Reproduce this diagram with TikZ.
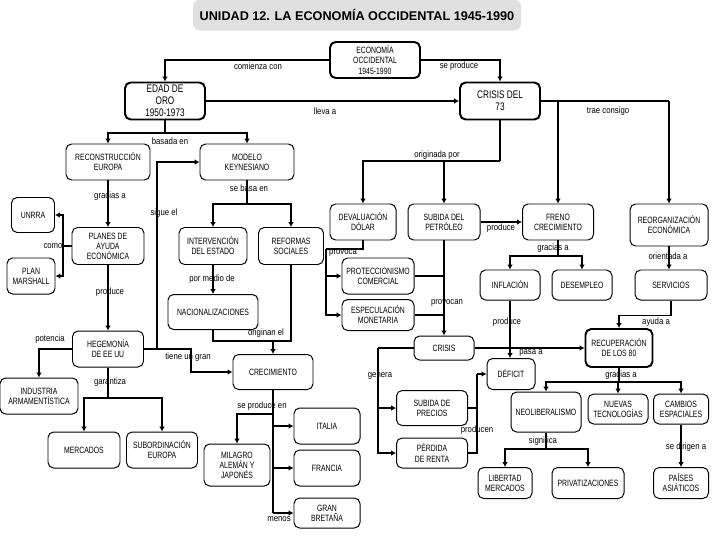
\documentclass[tikz,border=0pt]{standalone}
\usepackage{fontspec}
\setmainfont{Liberation Sans}
\newfontfamily\boxfamily[FakeStretch=0.75]{Liberation Sans}
\newfontfamily\linkfamily[FakeStretch=0.85]{Liberation Sans}
\usepackage{tikz}
\usetikzlibrary{arrows.meta}
\newcommand\boxtext{\boxfamily\fontsize{6.5}{7.2}\selectfont}
\newcommand\bigtext{\boxfamily\fontsize{7.8}{8.6}\selectfont}
\newcommand\linktext{\linkfamily\fontsize{6.5}{7}\selectfont}
\newcommand\headtext{\bfseries\fontsize{9}{10}\selectfont}

\tikzset{
  box/.style={draw, rounded corners=4pt, line width=0.7pt, align=center, font=\boxtext, inner sep=1pt},
  keybox/.style={box, line width=1.4pt},
  dims/.style 2 args={minimum width=#1*0.025cm, minimum height=#2*0.025cm},
  conn/.style={line width=1.3pt},
  arr/.style={conn, -{Latex[length=3.5pt,width=4pt]}},
  lbl/.style={font=\linktext, inner sep=0pt},
  titlebox/.style={fill=black!12, rounded corners=5pt, font=\headtext},
}

\begin{document}
\begin{tikzpicture}[x=0.025cm, y=-0.025cm]
  \useasboundingbox (0,0) rectangle (720,540);

  \node[titlebox, dims={328}{31}] (title) at (357,15) {UNIDAD 12. LA ECONOMÍA OCCIDENTAL 1945-1990};

  % concepts
  \node[keybox, dims={90}{36}] (eco) at (375,60) {ECONOMÍA\\OCCIDENTAL\\1945-1990};
  \node[keybox, font=\bigtext, dims={80}{37}] (edad) at (165,101) {EDAD DE\\ORO\\1950-1973};
  \node[keybox, font=\bigtext, dims={80}{37}] (crisis73) at (500,101) {CRISIS DEL\\73};
  \node[box, dims={84}{36}] (recon) at (108,162) {RECONSTRUCCIÓN\\EUROPA};
  \node[box, dims={94}{36}] (keynes) at (247,162) {MODELO\\KEYNESIANO};
  \node[box, dims={43}{35}] (unrra) at (33,215) {UNRRA};
  \node[box, dims={72}{37}] (planes) at (108,246) {PLANES DE\\AYUDA\\ECONÓMICA};
  \node[box, dims={48}{36}] (marshall) at (31,276) {PLAN\\MARSHALL};
  \node[box, dims={68}{37}] (interv) at (213,246) {INTERVENCIÓN\\DEL ESTADO};
  \node[box, dims={65}{37}] (reformas) at (291,246) {REFORMAS\\SOCIALES};
  \node[box, dims={66}{36}] (deval) at (363,222) {DEVALUACIÓN\\DÓLAR};
  \node[box, dims={72}{36}] (petroleo) at (444,222) {SUBIDA DEL\\PETRÓLEO};
  \node[box, dims={71}{36}] (freno) at (558,222) {FRENO\\CRECIMIENTO};
  \node[box, dims={78}{42}] (reorg) at (669,225) {REORGANIZACIÓN\\ECONÓMICA};
  \node[box, dims={72}{36}] (protec) at (378,276) {PROTECCIONISMO\\COMERCIAL};
  \node[box, dims={72}{31}] (especul) at (378,315) {ESPECULACIÓN\\MONETARIA};
  \node[box, dims={60}{30}] (inflacion) at (510,285) {INFLACIÓN};
  \node[box, dims={60}{30}] (desempleo) at (582,285) {DESEMPLEO};
  \node[box, dims={72}{30}] (servicios) at (671,285) {SERVICIOS};
  \node[box, dims={90}{35}] (nacional) at (213,312) {NACIONALIZACIONES};
  \node[box, dims={71}{36}] (hegemonia) at (108,349) {HEGEMONÍA\\DE EE UU};
  \node[box, dims={60}{24}] (crisis) at (444,348) {CRISIS};
  \node[keybox, dims={67}{38}] (recup) at (619,348) {RECUPERACIÓN\\DE LOS 80};
  \node[box, dims={80}{35}] (crec) at (273,372) {CRECIMIENTO};
  \node[box, dims={48}{31}] (deficit) at (511,374) {DÉFICIT};
  \node[box, dims={78}{36}] (industria) at (39,396) {INDUSTRIA\\ARMAMENTÍSTICA};
  \node[box, dims={71}{35}] (precios) at (432,408) {SUBIDA DE\\PRECIOS};
  \node[box, dims={70}{40}] (neolib) at (546,412) {NEOLIBERALISMO};
  \node[box, dims={60}{30}] (tecno) at (618,409) {NUEVAS\\TECNOLOGÍAS};
  \node[box, dims={55}{30}] (cambios) at (681,409) {CAMBIOS\\ESPACIALES};
  \node[box, dims={66}{36}] (italia) at (327,426) {ITALIA};
  \node[box, dims={71}{30}] (renta) at (432,453) {PÉRDIDA\\DE RENTA};
  \node[box, dims={72}{36}] (mercados) at (84,450) {MERCADOS};
  \node[box, dims={71}{36}] (subord) at (162,450) {SUBORDINACIÓN\\EUROPA};
  \node[box, dims={66}{42}] (milagro) at (237,465) {MILAGRO\\ALEMÁN Y\\JAPONÉS};
  \node[box, dims={66}{36}] (francia) at (327,468) {FRANCIA};
  \node[box, dims={54}{31}] (libertad) at (505,483) {LIBERTAD\\MERCADOS};
  \node[box, dims={72}{31}] (privat) at (588,483) {PRIVATIZACIONES};
  \node[box, dims={55}{31}] (asia) at (681,483) {PAÍSES\\ASIÁTICOS};
  \node[box, dims={66}{30}] (gb) at (327,513) {GRAN\\BRETAÑA};

  % junctions
  \coordinate (jbasada) at (165,133);
  \coordinate (jcomo) at (63,246);
  \coordinate (jbasa) at (247,204);
  \coordinate (jorig) at (273,341);
  \coordinate (jgar) at (108,398);
  \coordinate (jprod) at (273,414);
  \coordinate (jmenos) at (273,513);
  \coordinate (jorigin) at (500,161);
  \coordinate (jtrae) at (669,101);
  \coordinate (jprov) at (326,249);
  \coordinate (jgrac) at (558,256);
  \coordinate (jgen) at (378,348);
  \coordinate (jdef) at (477,374);
  \coordinate (jrec) at (619,382);
  \coordinate (jsig) at (546,449);

  % links
  \draw[arr] (eco.west) -| (edad.north);
  \draw[arr] (eco.east) -| (crisis73.north);
  \draw[arr] (edad.east) -- (crisis73.west);
  \draw[conn] (edad.south) -- (jbasada);
  \draw[arr] (jbasada) -| (recon.north);
  \draw[arr] (jbasada) -| (keynes.north);
  \draw[arr] (recon.south) -- (planes.north);
  \draw[conn] (planes.west) -- (jcomo);
  \draw[arr] (jcomo) |- (unrra.east);
  \draw[arr] (jcomo) |- (marshall.east);
  \draw[arr] (planes.south) -- (hegemonia.north);
  \draw[arr] (hegemonia.east) -- ++(13,0) |- (keynes.west);
  \draw[arr] (hegemonia.east) -- ++(47,0) |- (crec.west);
  \draw[arr] (hegemonia.west) -| (industria.north);
  \draw[conn] (hegemonia.south) -- (jgar);
  \draw[arr] (jgar) -| (mercados.north);
  \draw[arr] (jgar) -| (subord.north);
  \draw[conn] (keynes.south) -- (jbasa);
  \draw[arr] (jbasa) -| (interv.north);
  \draw[arr] (jbasa) -| (reformas.north);
  \draw[arr] (interv.south) -- (nacional.north);
  \draw[conn] (nacional.south) |- (jorig);
  \draw[conn] (reformas.south) |- (jorig);
  \draw[arr] (jorig) -- (crec.north);
  \draw[conn] (crec.south) -- (jmenos);
  \draw[arr] (jprod) -| (milagro.north);
  \draw[arr] (italia.west -| jprod) -- (italia.west);
  \draw[arr] (francia.west -| jprod) -- (francia.west);
  \draw[arr] (jmenos) -- (gb.west);
  \draw[conn] (crisis73.south) -- (jorigin);
  \draw[arr] (jorigin) -| (deval.north);
  \draw[arr] (jorigin) -| (petroleo.north);
  \draw[conn] (crisis73.east) -- (jtrae);
  \draw[arr] (jtrae) -- (reorg.north);
  \draw[arr] (crisis73.east -| freno.north) -- (freno.north);
  \draw[conn] (deval.south) |- (jprov);
  \draw[arr] (jprov) |- (protec.west);
  \draw[arr] (jprov) |- (especul.west);
  \draw[arr] (petroleo.east) -- (freno.west);
  \draw[arr] (petroleo.south) -- (crisis.north);
  \draw[conn] (protec.east) -- (protec.east -| petroleo.south);
  \draw[conn] (especul.east) -- (especul.east -| petroleo.south);
  \draw[conn] (freno.south) -- (jgrac);
  \draw[arr] (jgrac) -| (inflacion.north);
  \draw[arr] (jgrac) -| (desempleo.north);
  \draw[arr] (reorg.south) -- (reorg.south |- servicios.north);
  \draw[arr] (inflacion.south) -- (inflacion.south |- deficit.north);
  \draw[arr] (servicios.south) -- ++(0,15) -| (recup.north);
  \draw[arr] (crisis.east) -- (recup.west);
  \draw[conn] (crisis.west) -- (jgen);
  \draw[arr] (jgen) |- (precios.west);
  \draw[arr] (jgen) |- (renta.west);
  \draw[conn] (precios.east) -| (jdef);
  \draw[conn] (renta.east) -| (jdef);
  \draw[arr] (jdef) -- (deficit.west);
  \draw[conn] (recup.south) -- (jrec);
  \draw[arr] (jrec) -| (neolib.north);
  \draw[arr] (jrec) -| (tecno.north);
  \draw[arr] (jrec) -| (cambios.north);
  \draw[conn] (neolib.south) -- (jsig);
  \draw[arr] (jsig) -| (libertad.north);
  \draw[arr] (jsig) -| (privat.north);
  \draw[arr] (cambios.south) -- (asia.north);

  % link words
  \node[lbl] (lcomienza) at (258,66) {comienza con};
  \node[lbl] (lseproduce) at (459,66) {se produce};
  \node[lbl] (llleva) at (325,111) {lleva a};
  \node[lbl] (ltrae) at (608,111) {trae consigo};
  \node[lbl] (lbasada) at (170,141) {basada en};
  \node[lbl] (loriginada) at (437,155) {originada por};
  \node[lbl] (lbasa) at (249,188) {se basa en};
  \node[lbl] (lgracias) at (110,196) {gracias a};
  \node[lbl] (lsigue) at (164,213) {sigue el};
  \node[lbl] (lproduce) at (501,228) {produce};
  \node[lbl] (lcomo) at (53,246) {como};
  \node[lbl] (lgraciasb) at (553,248) {gracias a};
  \node[lbl] (lprovoca) at (343,253) {provoca};
  \node[lbl] (lorientada) at (668,256) {orientada a};
  \node[lbl] (lmedio) at (212,279) {por medio de};
  \node[lbl] (lproduceb) at (110,292) {produce};
  \node[lbl] (lprovocan) at (447,303) {provocan};
  \node[lbl] (lproducec) at (507,322) {produce};
  \node[lbl] (layuda) at (656,322) {ayuda a};
  \node[lbl] (loriginan) at (266,333) {originan el};
  \node[lbl] (lpotencia) at (50,339) {potencia};
  \node[lbl] (lpasa) at (531,353) {pasa a};
  \node[lbl] (ltiene) at (188,357) {tiene un gran};
  \node[lbl] (lgraciasc) at (621,375) {gracias a};
  \node[lbl] (lgenera) at (380,376) {genera};
  \node[lbl] (lgarantiza) at (110,382) {garantiza};
  \node[lbl] (lsepro) at (262,406) {se produce en};
  \node[lbl] (lproducen) at (477,430) {producen};
  \node[lbl] (lsignifica) at (543,441) {significa};
  \node[lbl] (ldirigen) at (686,447) {se dirigen a};
  \node[lbl] (lmenos) at (279,519) {menos};
\end{tikzpicture}
\end{document}
